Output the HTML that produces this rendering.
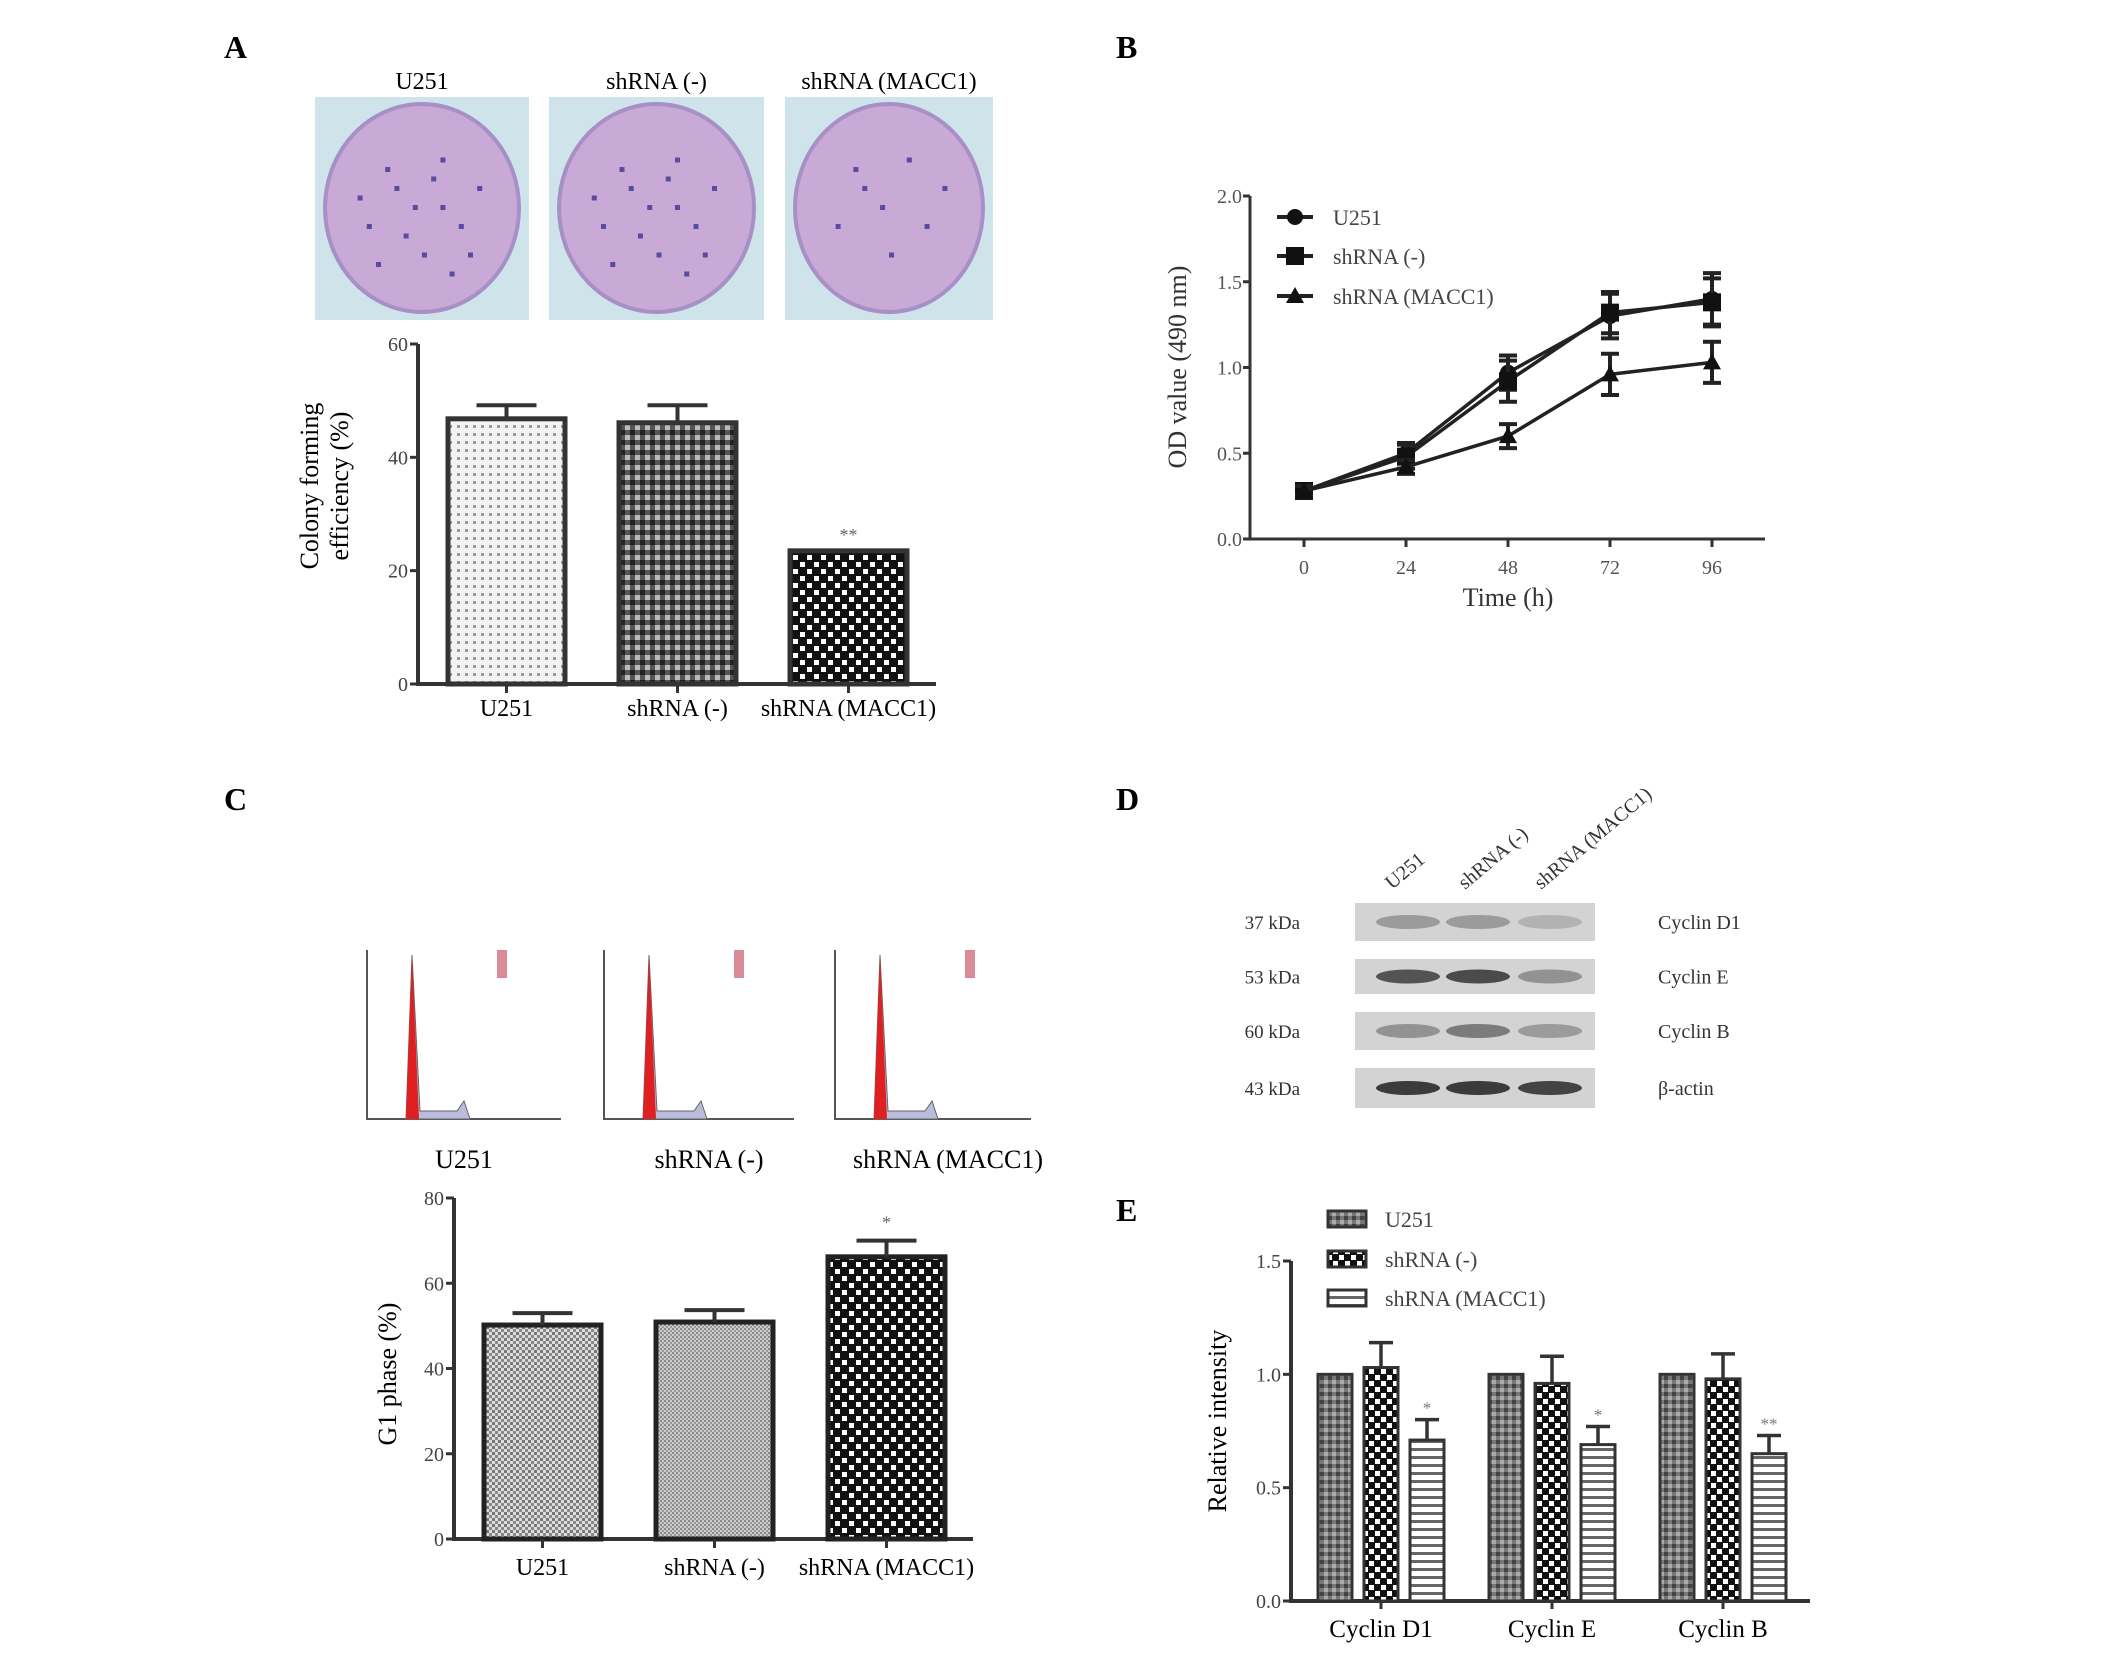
<!DOCTYPE html>
<html><head><meta charset="utf-8"><style>
html,body{margin:0;padding:0;background:#fff;}
svg{display:block;font-family:"Liberation Serif",serif;}
</style></head><body>
<svg id="fig" width="2126" height="1666" viewBox="0 0 2126 1666" xmlns="http://www.w3.org/2000/svg">
<defs>
<pattern id="pDots" width="8" height="8" patternUnits="userSpaceOnUse"><rect width="8" height="8" fill="#f2f2f2"/><rect x="1" y="1" width="3" height="3" fill="#999"/></pattern>
<pattern id="pChkDark" width="10" height="10" patternUnits="userSpaceOnUse"><rect width="10" height="10" fill="#555"/><rect width="5" height="5" fill="#222"/><rect x="5" y="5" width="5" height="5" fill="#bbb"/></pattern>
<pattern id="pDiamond" width="14" height="14" patternUnits="userSpaceOnUse"><rect width="14" height="14" fill="#111"/><rect x="2" y="2" width="5" height="5" fill="#fff"/><rect x="9" y="9" width="5" height="5" fill="#fff"/></pattern>
<pattern id="pGrid" width="6" height="6" patternUnits="userSpaceOnUse"><rect width="6" height="6" fill="#ddd"/><rect width="3" height="3" fill="#777"/><rect x="3" y="3" width="3" height="3" fill="#888"/></pattern>
<pattern id="pFine" width="4" height="4" patternUnits="userSpaceOnUse"><rect width="4" height="4" fill="#ccc"/><rect width="2" height="2" fill="#888"/><rect x="2" y="2" width="2" height="2" fill="#999"/></pattern>
<pattern id="pE1" width="8" height="8" patternUnits="userSpaceOnUse"><rect width="8" height="8" fill="#777"/><rect width="4" height="4" fill="#444"/><rect x="4" y="4" width="4" height="4" fill="#aaa"/></pattern>
<pattern id="pE2" width="12" height="12" patternUnits="userSpaceOnUse"><rect width="12" height="12" fill="#111"/><rect x="1" y="1" width="5" height="5" fill="#fff"/><rect x="7" y="7" width="5" height="5" fill="#fff"/></pattern>
<pattern id="pE3" width="6" height="8" patternUnits="userSpaceOnUse"><rect width="6" height="8" fill="#fff"/><rect y="0" width="6" height="3" fill="#666"/></pattern>
</defs>
<g font-weight="bold" font-size="32" fill="#000">
<text x="224" y="58">A</text>
<text x="1116" y="58">B</text>
<text x="224" y="810">C</text>
<text x="1116" y="810">D</text>
<text x="1116" y="1221">E</text>
</g>
<g id="dishes"></g>
<g id="chartA"></g>
<g id="chartB"></g>
<g id="hists"></g>
<g id="chartC"></g>
<g id="blot"></g>
<g id="chartE"></g>
</svg>
<script>
// ---- Panel A data ----
const aCategories = ["U251","shRNA (-)","shRNA (MACC1)"];
const aValues = [46.8, 46.1, 23.5];
const aErrors = [2.4, 3.1, 0];
const aTicks = [0,20,40,60];
// ---- Panel B data ----
const bTimes = [0,24,48,72,96];
const bU251 = [0.28,0.50,0.97,1.30,1.40];
const bShNeg = [0.28,0.48,0.92,1.32,1.38];
const bShMacc = [0.28,0.42,0.60,0.96,1.03];
const bErrU251 = [0.03,0.06,0.10,0.13,0.15];
const bErrShNeg = [0.03,0.07,0.12,0.12,0.14];
const bErrShMacc = [0.03,0.04,0.07,0.12,0.12];
const bSeriesNames = ["U251","shRNA (-)","shRNA (MACC1)"];
const bYTicks = [0.0,0.5,1.0,1.5,2.0];
// ---- Panel C data ----
const cCategories = ["U251","shRNA (-)","shRNA (MACC1)"];
const cValues = [50.2, 50.9, 66.2];
const cErrors = [2.8, 2.8, 3.8];
const cTicks = [0,20,40,60,80];
// ---- Panel E data ----
const eCategories = ["Cyclin D1","Cyclin E","Cyclin B"];
const eU251 = [1.0,1.0,1.0];
const eShNeg = [1.03,0.96,0.98];
const eShMacc = [0.71,0.69,0.65];
const eErrShNeg = [0.11,0.12,0.11];
const eErrShMacc = [0.09,0.08,0.08];
const eSig = ["*","*","**"];
const eTicks = [0.0,0.5,1.0,1.5];

const NS="http://www.w3.org/2000/svg";
function mk(parent,tag,attrs,txt){const e=document.createElementNS(NS,tag);for(const k in attrs)e.setAttribute(k,attrs[k]);if(txt!==undefined)e.textContent=txt;parent.appendChild(e);return e;}

// ---------- Dishes ----------
(function(){
  const g=document.getElementById('dishes');
  const xs=[315,549,785], ws=[214,215,208];
  const dots=[[0.3,0.3],[0.6,0.25],[0.45,0.5],[0.2,0.6],[0.7,0.6],[0.5,0.75],[0.35,0.4],[0.8,0.4],[0.25,0.8],[0.65,0.85],[0.55,0.35],[0.15,0.45],[0.75,0.75],[0.4,0.65],[0.6,0.5]];
  for(let i=0;i<3;i++){
    const t=mk(g,'text',{x:xs[i]+ws[i]/2,y:89,'text-anchor':'middle','font-size':24},aCategories[i]);
    
    
    const r=mk(g,'rect',{x:xs[i],y:97,width:ws[i],height:223,fill:'#cfe3ea'});
    
    
    const e=mk(g,'ellipse',{cx:xs[i]+ws[i]/2,cy:208,rx:ws[i]/2-10,ry:104,fill:'#c9a9d6',stroke:'#a690c6','stroke-width':4});
    
    
    const n = i==2?8:15;
    for(let k=0;k<n;k++){
      const d=mk(g,'rect',{x:xs[i]+15+dots[k][0]*(ws[i]-30),y:110+dots[k][1]*190,width:5,height:5,fill:'#5a4aa0'});
      
      
    }
  }
})();

// ---------- Generic bar chart ----------
function barChart(g,o){
  const y=v=>o.y0-(v-o.min)/(o.max-o.min)*(o.y0-o.yTop);
  const ax=mk(g,'path',{d:`M${o.x0} ${o.yTop} V${o.y0} H${o.xEnd}`,stroke:'#333','stroke-width':4,fill:'none'});
  
  
  o.ticks.forEach(t=>{
    mk(g,'line',{x1:o.x0-8,x2:o.x0,y1:y(t),y2:y(t),stroke:'#333','stroke-width':3});
    const tl=mk(g,'text',{x:o.x0-10,y:y(t)+7,'text-anchor':'end','font-size':20,fill:'#444'},o.fmt?o.fmt(t):t);
    
    
  });
  const yt=mk(g,'text',{x:o.titleX,y:o.titleY,'text-anchor':'middle','font-size':26,transform:`rotate(-90 ${o.titleX} ${o.titleY})`},'');
  
  
  o.title.forEach((line,i)=>{mk(yt,'tspan',{x:o.titleX,dy:i==0?(o.title.length>1?-14:0):30},line);});
  return y;
}

// ---------- Panel A ----------
(function(){
  const g=document.getElementById('chartA');
  const o={x0:418,y0:684,yTop:344,xEnd:936,min:0,max:60,ticks:aTicks,title:["Colony forming","efficiency (%)"],titleX:332,titleY:486};
  const y=barChart(g,o);
  const fills=['url(#pDots)','url(#pChkDark)','url(#pDiamond)'];
  const left=448, step=171, bw=117;
  aValues.forEach((v,i)=>{
    const x=left+i*step;
    const b=mk(g,'rect',{x:x,y:y(v),width:bw,height:y(0)-y(v),fill:fills[i],stroke:'#333','stroke-width':5});
    
    
    if(aErrors[i]>0){
      const eb=mk(g,'path',{d:`M${x+bw/2} ${y(v)} V${y(v+aErrors[i])} M${x+bw/2-30} ${y(v+aErrors[i])} H${x+bw/2+30}`,stroke:'#333','stroke-width':4});
      
      
    }
    mk(g,'line',{x1:x+bw/2,x2:x+bw/2,y1:y(0),y2:y(0)+9,stroke:'#333','stroke-width':3});
    const tl=mk(g,'text',{x:x+bw/2,y:y(0)+32,'text-anchor':'middle','font-size':24},aCategories[i]);
    
    
  });
  const s=mk(g,'text',{x:left+2*step+bw/2,y:y(aValues[2])-10,'text-anchor':'middle','font-size':18,fill:'#666'},'**');
  
  
})();

// ---------- Panel B ----------
(function(){
  const g=document.getElementById('chartB');
  const x0=1250,y0=539,yTop=196,xEnd=1765;
  const x=t=>1304+t/24*102;
  const y=v=>y0-v/2*(y0-yTop);
  const ax=mk(g,'path',{d:`M${x0} ${yTop} V${y0} H${xEnd}`,stroke:'#333','stroke-width':3,fill:'none'});
  
  
  bYTicks.forEach(t=>{
    mk(g,'line',{x1:x0-7,x2:x0,y1:y(t),y2:y(t),stroke:'#333','stroke-width':3});
    const tl=mk(g,'text',{x:x0-8,y:y(t)+7,'text-anchor':'end','font-size':20,fill:'#555'},t.toFixed(1));
    
    
  });
  bTimes.forEach(t=>{
    mk(g,'line',{x1:x(t),x2:x(t),y1:y0,y2:y0+8,stroke:'#333','stroke-width':3});
    const tl=mk(g,'text',{x:x(t),y:y0+35,'text-anchor':'middle','font-size':20,fill:'#555'},t);
    
    
  });
  const xt=mk(g,'text',{x:1508,y:606,'text-anchor':'middle','font-size':26,fill:'#333'},'Time (h)');
  
  
  const yt=mk(g,'text',{x:1186,y:367,'text-anchor':'middle','font-size':26,fill:'#333',transform:'rotate(-90 1186 367)'},'OD value (490 nm)');
  
  
  const series=[[bU251,bErrU251,'circle'],[bShNeg,bErrShNeg,'square'],[bShMacc,bErrShMacc,'triangle']];
  function marker(parent,type,cx,cy){
    let m;
    if(type==='circle') m=mk(parent,'circle',{cx:cx,cy:cy,r:8,fill:'#111'});
    else if(type==='square') m=mk(parent,'rect',{x:cx-9,y:cy-9,width:18,height:18,fill:'#111'});
    else m=mk(parent,'path',{d:`M${cx} ${cy-9} L${cx+9} ${cy+7} L${cx-9} ${cy+7} Z`,fill:'#111'});
    return m;
  }
  series.forEach((s,si)=>{
    const vals=s[0],errs=s[1];
    const line=mk(g,'polyline',{points:bTimes.map((t,i)=>x(t)+','+y(vals[i])).join(' '),fill:'none',stroke:'#222','stroke-width':3.5});
    
    
    bTimes.forEach((t,i)=>{
      const eb=mk(g,'path',{d:`M${x(t)} ${y(vals[i]-errs[i])} V${y(vals[i]+errs[i])} M${x(t)-9} ${y(vals[i]-errs[i])} H${x(t)+9} M${x(t)-9} ${y(vals[i]+errs[i])} H${x(t)+9}`,stroke:'#222','stroke-width':4});
      
      
      const m=marker(g,s[2],x(t),y(vals[i]));
      
      
    });
    const ly=[217,256,296][si];
    mk(g,'line',{x1:1277,x2:1313,y1:ly,y2:ly,stroke:'#222','stroke-width':4});
    const lm=marker(g,s[2],1295,ly);
    
    
    const lt=mk(g,'text',{x:1333,y:ly+8,'font-size':22,fill:'#444'},bSeriesNames[si]);
    
    
  });
})();

// ---------- Histograms ----------
(function(){
  const g=document.getElementById('hists');
  const xs=[367,604,835], w=[194,190,196];
  for(let i=0;i<3;i++){
    const x0=xs[i], x1=xs[i]+w[i], yb=1119, yt=950;
    const ax=mk(g,'path',{d:`M${x0} ${yt} V${yb} H${x1}`,stroke:'#555','stroke-width':2,fill:'none'});
    
    
    const px=x0+45;
    const sh=mk(g,'path',{d:`M${px-6} ${yb} L${px} ${yt+5} L${px+8} ${yb-8} L${px+45} ${yb-8} L${px+52} ${yb-18} L${px+58} ${yb} Z`,fill:'#bbbbdd',stroke:'#666','stroke-width':1});
    
    
    const pk=mk(g,'path',{d:`M${px-6} ${yb} L${px} ${yt+5} L${px+7} ${yb} Z`,fill:'#e02020'});
    
    
    const lg=mk(g,'rect',{x:x0+130,y:yt,width:10,height:28,fill:'#c04050',opacity:0.6});
    
    
    const t=mk(g,'text',{x:x0+w[i]/2+[0,10,15][i],y:1168,'text-anchor':'middle','font-size':26},cCategories[i]);
    
    
  }
})();

// ---------- Panel C ----------
(function(){
  const g=document.getElementById('chartC');
  const o={x0:454,y0:1539,yTop:1198,xEnd:973,min:0,max:80,ticks:cTicks,title:["G1 phase (%)"],titleX:396,titleY:1374};
  const y=barChart(g,o);
  const fills=['url(#pGrid)','url(#pFine)','url(#pDiamond)'];
  const left=484, step=172, bw=117;
  cValues.forEach((v,i)=>{
    const x=left+i*step;
    const b=mk(g,'rect',{x:x,y:y(v),width:bw,height:y(0)-y(v),fill:fills[i],stroke:'#222','stroke-width':5});
    
    
    const eb=mk(g,'path',{d:`M${x+bw/2} ${y(v)} V${y(v+cErrors[i])} M${x+bw/2-30} ${y(v+cErrors[i])} H${x+bw/2+30}`,stroke:'#333','stroke-width':4});
    
    
    mk(g,'line',{x1:x+bw/2,x2:x+bw/2,y1:y(0),y2:y(0)+9,stroke:'#333','stroke-width':3});
    const tl=mk(g,'text',{x:x+bw/2,y:y(0)+36,'text-anchor':'middle','font-size':24},cCategories[i]);
    
    
  });
  const s=mk(g,'text',{x:left+2*step+bw/2,y:y(cValues[2]+cErrors[2])-12,'text-anchor':'middle','font-size':18,fill:'#666'},'*');
  
  
})();

// ---------- Panel D blot ----------
(function(){
  const g=document.getElementById('blot');
  const rows=[[903,941,'37 kDa','Cyclin D1',[0.35,0.35,0.2]],[959,994,'53 kDa','Cyclin E',[0.8,0.85,0.4]],[1012,1050,'60 kDa','Cyclin B',[0.4,0.55,0.35]],[1068,1108,'43 kDa','β-actin',[0.95,0.95,0.9]]];
  const lanes=[1408,1478,1550];
  rows.forEach(r=>{
    const bg=mk(g,'rect',{x:1355,y:r[0],width:240,height:r[1]-r[0],fill:'#d3d3d3'});
    
    
    r[4].forEach((a,i)=>{
      const b=mk(g,'ellipse',{cx:lanes[i],cy:(r[0]+r[1])/2,rx:32,ry:7,fill:'#333',opacity:a});
      
      
    });
    const k=mk(g,'text',{x:1300,y:(r[0]+r[1])/2+7,'text-anchor':'end','font-size':19,fill:'#333'},r[2]);
    
    
    const p=mk(g,'text',{x:1658,y:(r[0]+r[1])/2+7,'font-size':20,fill:'#333'},r[3]);
    
    
  });
  const cl=[[1392,890,'U251'],[1465,890,'shRNA (-)'],[1541,890,'shRNA (MACC1)']];
  cl.forEach(c=>{
    const t=mk(g,'text',{x:c[0],y:c[1],'font-size':20,fill:'#333',transform:`rotate(-40 ${c[0]} ${c[1]})`},c[2]);
    
    
  });
})();

// ---------- Panel E ----------
(function(){
  const g=document.getElementById('chartE');
  const o={x0:1291,y0:1601,yTop:1261,xEnd:1810,min:0,max:1.5,ticks:eTicks,title:["Relative intensity"],titleX:1226,titleY:1421,fmt:t=>t.toFixed(1)};
  const y=barChart(g,o);
  const fills=['url(#pE1)','url(#pE2)','url(#pE3)'];
  const names=["U251","shRNA (-)","shRNA (MACC1)"];
  const series=[eU251,eShNeg,eShMacc];
  const errs=[[0,0,0],eErrShNeg,eErrShMacc];
  const gStart=1318, gStep=171, bw=34, bStep=46;
  eCategories.forEach((c,ci)=>{
    series.forEach((s,si)=>{
      const x=gStart+ci*gStep+si*bStep, v=s[ci];
      const b=mk(g,'rect',{x:x,y:y(v),width:bw,height:y(0)-y(v),fill:fills[si],stroke:'#333','stroke-width':3});
      
      
      if(errs[si][ci]>0){
        const eb=mk(g,'path',{d:`M${x+bw/2} ${y(v)} V${y(v+errs[si][ci])} M${x+bw/2-12} ${y(v+errs[si][ci])} H${x+bw/2+12}`,stroke:'#333','stroke-width':3.5});
        
        
      }
    });
    const sx=gStart+ci*gStep+2*bStep+bw/2;
    const st=mk(g,'text',{x:sx,y:y(eShMacc[ci]+eErrShMacc[ci])-6,'text-anchor':'middle','font-size':17,fill:'#777'},eSig[ci]);
    
    
    const cx=gStart+ci*gStep+bStep+bw/2;
    mk(g,'line',{x1:cx,x2:cx,y1:y(0),y2:y(0)+8,stroke:'#333','stroke-width':3});
    const tl=mk(g,'text',{x:cx,y:1637,'text-anchor':'middle','font-size':25},c);
    
    
  });
  names.forEach((n,i)=>{
    const ly=[1219,1259,1298][i];
    const sw=mk(g,'rect',{x:1328,y:ly-8,width:38,height:16,fill:fills[i],stroke:'#333','stroke-width':3});
    
    
    const t=mk(g,'text',{x:1385,y:ly+8,'font-size':22,fill:'#444'},n);
    
    
  });
})();
</script>
</body></html>
